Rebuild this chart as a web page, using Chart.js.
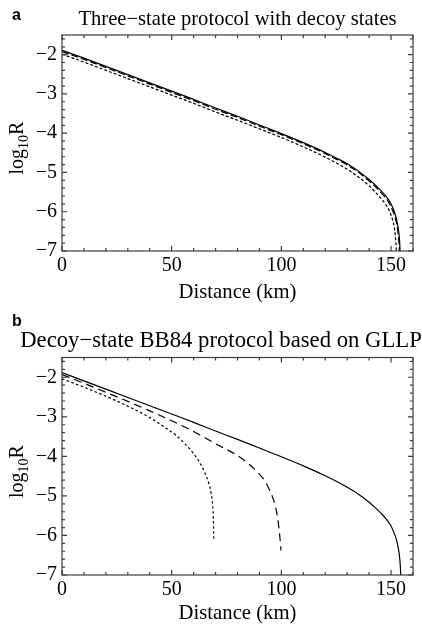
<!DOCTYPE html>
<html><head><meta charset="utf-8">
<script src="https://cdn.jsdelivr.net/npm/chart.js@4/dist/chart.umd.min.js"></script>
<style>
html,body{margin:0;padding:0;background:#fff;width:422px;height:627px;overflow:hidden}
.w{position:absolute;left:0;width:422px}
#wa{top:0;height:310px}
#wb{top:310px;height:317px}
</style></head><body>
<div class="w" id="wa"><canvas id="ca" width="422" height="310"></canvas></div>
<div class="w" id="wb"><canvas id="cb" width="422" height="317"></canvas></div>
<script>
// ---------- data ----------
const xMin = 0, xMax = 160, yMin = -7, yMax = -1.5;
const xTickValues = [0, 50, 100, 150];
const yTickValues = [-7, -6, -5, -4, -3, -2];

// panel a: three-state protocol with decoy states
const distA_solid = [0,10,20,30,40,50,60,70,80,90,100,110,120,125,130,135,140,143,146,148,149.6,151,152,152.6,153.2,153.7,153.95,154.1];
const logRA_solid = [-1.89,-2.09,-2.30,-2.51,-2.72,-2.93,-3.14,-3.36,-3.57,-3.79,-4.01,-4.24,-4.49,-4.63,-4.78,-4.96,-5.18,-5.33,-5.50,-5.63,-5.76,-5.93,-6.09,-6.22,-6.40,-6.62,-6.80,-7.0];
const distA_dash  = [0,10,20,30,40,50,60,70,80,90,100,110,120,125,130,135,140,143,146,148,149.5,150.8,151.8,152.4,153.0,153.4,153.65,153.8];
const logRA_dash  = [-1.92,-2.12,-2.33,-2.54,-2.75,-2.96,-3.17,-3.39,-3.60,-3.82,-4.04,-4.27,-4.52,-4.66,-4.81,-4.99,-5.22,-5.37,-5.55,-5.68,-5.82,-5.98,-6.14,-6.27,-6.45,-6.66,-6.83,-7.0];
const distA_dot   = [0,10,20,30,40,50,60,70,80,90,100,110,120,125,130,135,140,143,146,148,149.4,150.6,151.4,151.9,152.2,152.4];
const logRA_dot   = [-1.99,-2.19,-2.40,-2.61,-2.82,-3.03,-3.24,-3.46,-3.67,-3.89,-4.11,-4.35,-4.61,-4.76,-4.92,-5.11,-5.34,-5.51,-5.70,-5.85,-6.00,-6.19,-6.38,-6.58,-6.78,-7.0];

// panel b: decoy-state BB84 protocol based on GLLP
const distB_solid = [0,10,20,30,40,50,60,70,80,90,100,110,120,125,130,135,140,143,146,148,149.8,151.2,152.3,152.9,153.5,154.0,154.25,154.4];
const logRB_solid = [-1.88,-2.09,-2.30,-2.51,-2.72,-2.93,-3.14,-3.36,-3.57,-3.79,-4.01,-4.24,-4.49,-4.63,-4.78,-4.95,-5.16,-5.31,-5.47,-5.60,-5.74,-5.91,-6.08,-6.21,-6.39,-6.61,-6.80,-7.0];
const distB_dash  = [0,10,20,30,40,50,60,70,80,85,90,93,95,96.7,97.8,98.6,99.2,99.6,99.8];
const logRB_dash  = [-1.93,-2.15,-2.38,-2.61,-2.85,-3.10,-3.37,-3.68,-3.98,-4.19,-4.45,-4.67,-4.90,-5.15,-5.40,-5.68,-5.98,-6.22,-6.38];
const distB_dot   = [0,10,20,30,40,47,52,56,60,63,65,67,68,68.7,69,69.2];
const logRB_dot   = [-2.04,-2.25,-2.48,-2.73,-3.02,-3.27,-3.47,-3.68,-3.93,-4.18,-4.40,-4.70,-4.93,-5.25,-5.60,-6.12];

const titleA = 'Three\u2212state protocol with decoy states';
const titleB = 'Decoy\u2212state BB84 protocol based on GLLP';
const xTitle = 'Distance (km)';

// ---------- rendering ----------
const SERIF = '"Liberation Serif", "Times New Roman", serif';
const pts = (xs, ys) => xs.map((v, i) => ({x: v, y: ys[i]}));
const fmt = v => (v < 0 ? '\u2212' + Math.abs(v) : String(v));

function ds(xs, ys, dash) {
  return {data: pts(xs, ys), borderColor: '#000', borderWidth: 1.2, borderDash: dash,
          pointRadius: 0, fill: false, cubicInterpolationMode: 'monotone'};
}

const decor = {
  id: 'decor',
  afterDatasetsDraw(chart, args, o) {
    const {ctx, chartArea: a, scales: {x, y}} = chart;
    ctx.save();
    ctx.strokeStyle = '#3c3c3c';
    ctx.lineWidth = 1.2;
    ctx.beginPath();
    for (let v = xMin; v <= xMax + 1e-9; v += 10) {
      const px = x.getPixelForValue(v);
      const L = (Math.round(v) % 50 === 0) ? 5 : 3;
      ctx.moveTo(px, a.bottom); ctx.lineTo(px, a.bottom - L);
      ctx.moveTo(px, a.top); ctx.lineTo(px, a.top + L);
    }
    for (let k = 0; k <= 27; k++) {
      const v = yMin + k * 0.2;
      const py = y.getPixelForValue(v);
      const L = (k % 5 === 0) ? 5 : 3;
      ctx.moveTo(a.left, py); ctx.lineTo(a.left + L, py);
      ctx.moveTo(a.right, py); ctx.lineTo(a.right - L, py);
    }
    ctx.stroke();
    ctx.strokeRect(a.left, a.top, a.right - a.left, a.bottom - a.top);
    ctx.restore();
  },
  afterDraw(chart, args, o) {
    const {ctx, chartArea: a} = chart;
    ctx.save();
    ctx.fillStyle = '#000';
    // panel letter
    ctx.font = 'bold 16px "Liberation Sans", Arial, sans-serif';
    ctx.textAlign = 'left'; ctx.textBaseline = 'alphabetic';
    ctx.fillText(o.letter, 12, o.letterY);
    // title
    ctx.font = o.titleSize + 'px ' + SERIF;
    ctx.textAlign = 'center';
    ctx.fillText(o.title, o.titleX, o.titleY);
    // x axis title
    ctx.font = '20.7px ' + SERIF;
    ctx.fillText(xTitle, (a.left + a.right) / 2, o.xTitleY);
    // y axis title with subscript
    ctx.translate(23, o.yTitleY);
    ctx.rotate(-Math.PI / 2);
    ctx.textAlign = 'left';
    const big = '20px ' + SERIF, small = '14px ' + SERIF;
    ctx.font = big; const w1 = ctx.measureText('log').width, w3 = ctx.measureText('R').width;
    ctx.font = small; const w2 = ctx.measureText('10').width;
    let s = -(w1 + w2 + w3) / 2;
    ctx.font = big; ctx.fillText('log', s, 0); s += w1;
    ctx.font = small; ctx.fillText('10', s, 5); s += w2;
    ctx.font = big; ctx.fillText('R', s, 0);
    ctx.restore();
  }
};

function makeChart(id, datasets, padTop, xH, decorOpts) {
  return new Chart(document.getElementById(id), {
    type: 'line',
    data: {datasets},
    options: {
      responsive: false, animation: false, devicePixelRatio: 1,
      layout: {padding: {left: 0, right: 9, top: padTop, bottom: 0}},
      plugins: {legend: {display: false}, tooltip: {enabled: false}, decor: decorOpts},
      scales: {
        x: {type: 'linear', min: xMin, max: xMax,
            afterFit: s => { s.height = xH; },
            afterBuildTicks: s => { s.ticks = xTickValues.map(v => ({value: v})); },
            grid: {display: false, drawTicks: false}, border: {display: false},
            ticks: {padding: 3, color: '#000', maxRotation: 0, autoSkip: false,
                    font: {family: SERIF, size: 20}, callback: v => fmt(v)}},
        y: {type: 'linear', min: yMin, max: yMax,
            afterFit: s => { s.width = 62; },
            afterBuildTicks: s => { s.ticks = yTickValues.map(v => ({value: v})); },
            grid: {display: false, drawTicks: false}, border: {display: false},
            ticks: {padding: 5, color: '#000', autoSkip: false,
                    font: {family: SERIF, size: 20}, callback: v => fmt(v)}}
      }
    },
    plugins: [decor]
  });
}

makeChart('ca', [
  ds(distA_solid, logRA_solid, []),
  ds(distA_dash, logRA_dash, [7, 3]),
  ds(distA_dot, logRA_dot, [3, 2])
], 35, 59, {letter: 'a', letterY: 20, title: titleA, titleSize: 20.6, titleX: 237.5, titleY: 25, xTitleY: 298, yTitleY: 148});

makeChart('cb', [
  ds(distB_solid, logRB_solid, []),
  ds(distB_dash, logRB_dash, [8, 5]),
  ds(distB_dot, logRB_dot, [2.5, 2.5])
], 47.5, 52, {letter: 'b', letterY: 16, title: titleB, titleSize: 22.7, titleX: 221, titleY: 37, xTitleY: 309, yTitleY: 161.5});
</script>
</body></html>
